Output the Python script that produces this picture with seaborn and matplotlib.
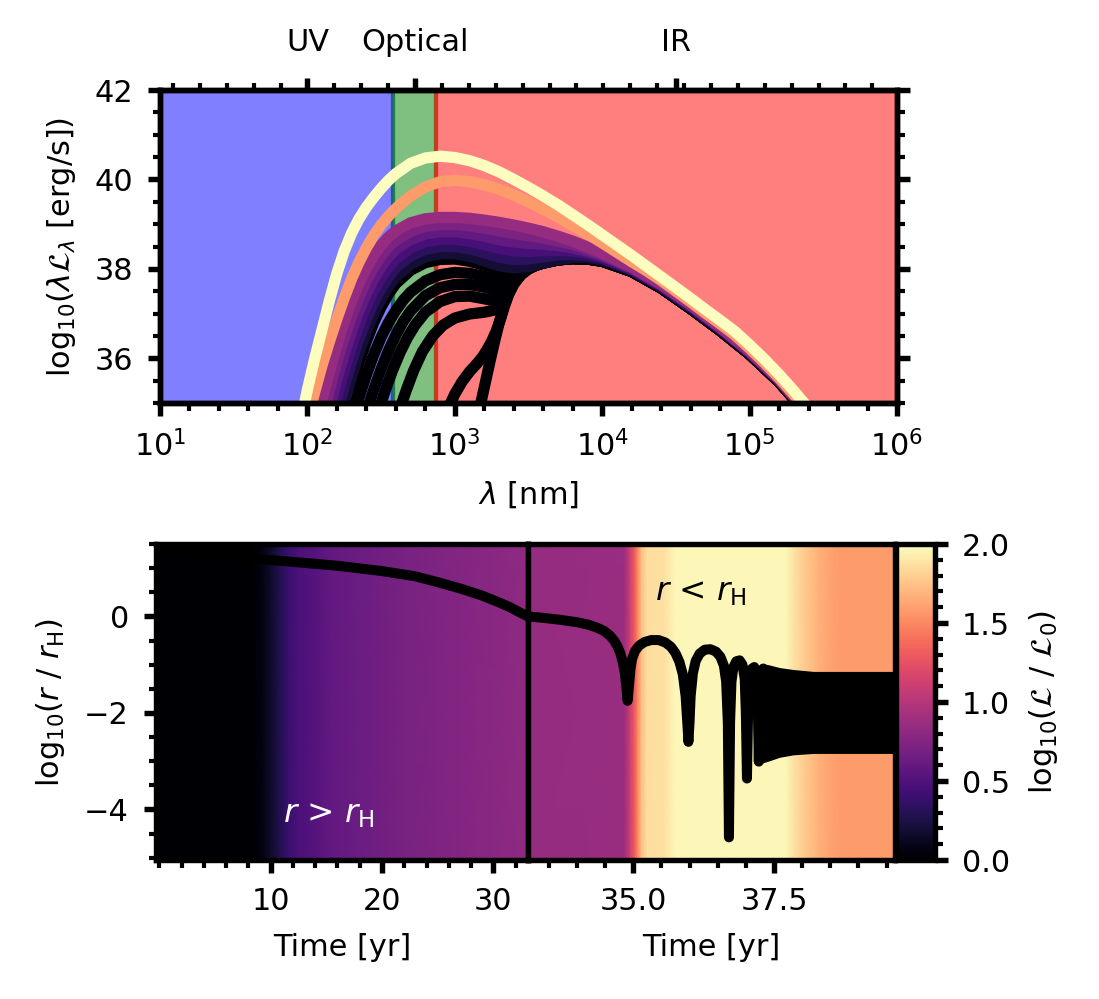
import numpy as np
import seaborn as sns
import matplotlib
matplotlib.use("Agg")
import matplotlib.pyplot as plt
from matplotlib.ticker import AutoMinorLocator, MultipleLocator, FormatStrFormatter
from matplotlib.colors import Normalize
from matplotlib.cm import ScalarMappable

# ---------------- data ----------------
# wavelength bands (log10 of nm)
uv_edge = np.log10(380)
ir_edge = np.log10(750)
band_ticks = [2.0, 2.73, 4.5]
band_names = ["UV", "Optical", "IR"]

# brightest SEDs (log10 lambda, log10 lambda L)
yel_x = [1.90, 1.95, 2.00, 2.05, 2.10, 2.15, 2.20, 2.25, 2.30, 2.35, 2.40, 2.45, 2.50, 2.55,
         2.60, 2.70, 2.80, 2.90, 3.00, 3.10, 3.20, 3.30, 3.40, 3.50, 3.60, 3.70, 3.80, 3.90,
         4.00, 4.10, 4.20, 4.30, 4.40, 4.50, 4.60, 4.70, 4.80, 4.90, 5.00, 5.10, 5.20, 5.30,
         5.40, 5.50]
yel_y = [33.7, 34.5, 35.3, 36.0, 36.65, 37.3, 37.9, 38.4, 38.8, 39.12, 39.38, 39.6, 39.8, 39.98,
         40.13, 40.36, 40.48, 40.52, 40.49, 40.42, 40.31, 40.17, 40.0, 39.82, 39.63, 39.43, 39.21, 38.99,
         38.76, 38.53, 38.3, 38.06, 37.82, 37.58, 37.34, 37.09, 36.85, 36.6, 36.3, 35.98, 35.64, 35.27,
         34.88, 34.48]
ora_x = [1.95, 2.00, 2.05, 2.10, 2.15, 2.20, 2.25, 2.30, 2.35, 2.40, 2.45, 2.50, 2.55, 2.60,
         2.70, 2.80, 2.90, 3.00, 3.10, 3.20, 3.30, 3.40, 3.50, 3.60, 3.70, 3.80, 3.90, 4.00,
         4.10, 4.20, 4.30, 4.40, 4.50, 4.60, 4.70, 4.80, 4.90, 5.00, 5.10, 5.20, 5.30, 5.40, 5.50]
ora_y = [34.0, 34.62, 35.25, 35.85, 36.38, 36.88, 37.35, 37.78, 38.15, 38.47, 38.75, 38.98, 39.18, 39.35,
         39.63, 39.83, 39.95, 39.98, 39.95, 39.88, 39.78, 39.65, 39.5, 39.33, 39.16, 38.97, 38.78, 38.58,
         38.37, 38.16, 37.96, 37.74, 37.5, 37.26, 37.01, 36.77, 36.52, 36.22, 35.9, 35.56, 35.19, 34.8, 34.4]
yel_lum = 2.0
ora_lum = 1.58

# purple band of SEDs on one wavelength grid (bottom row first)
band_grid = [2.00, 2.05, 2.10, 2.15, 2.20, 2.25, 2.30, 2.35, 2.40, 2.45, 2.50, 2.55, 2.60, 2.70,
             2.80, 2.90, 3.00, 3.10, 3.20, 3.30, 3.40, 3.50, 3.60, 3.70, 3.80, 3.90, 4.00, 4.20,
             4.40, 4.60, 4.80, 5.00, 5.20, 5.40]
band_sed = [
    [31.7, 32.4, 33.05, 33.7, 34.38, 35.0, 35.6, 36.13, 36.6, 37.0, 37.33, 37.6, 37.82, 38.1,
     38.27, 38.34, 38.34, 38.28, 38.18, 38.07, 38.02, 38.05, 38.13, 38.2, 38.25, 38.25, 38.2, 37.97,
     37.6, 37.14, 36.65, 36.12, 35.5, 34.75],
    [32.13, 32.81, 33.46, 34.1, 34.76, 35.36, 35.94, 36.44, 36.88, 37.26, 37.57, 37.82, 38.03, 38.29,
     38.44, 38.5, 38.5, 38.45, 38.36, 38.26, 38.21, 38.22, 38.27, 38.31, 38.32, 38.3, 38.23, 37.98,
     37.61, 37.15, 36.66, 36.13, 35.51, 34.76],
    [32.56, 33.22, 33.86, 34.5, 35.15, 35.73, 36.27, 36.75, 37.17, 37.52, 37.81, 38.04, 38.23, 38.47,
     38.61, 38.66, 38.66, 38.62, 38.54, 38.46, 38.4, 38.39, 38.41, 38.41, 38.4, 38.35, 38.26, 38.0,
     37.62, 37.16, 36.67, 36.14, 35.51, 34.76],
    [32.99, 33.63, 34.27, 34.9, 35.53, 36.09, 36.61, 37.06, 37.45, 37.78, 38.05, 38.27, 38.44, 38.66,
     38.78, 38.83, 38.83, 38.79, 38.73, 38.65, 38.6, 38.57, 38.55, 38.52, 38.47, 38.39, 38.29, 38.01,
     37.64, 37.18, 36.68, 36.14, 35.52, 34.77],
    [33.42, 34.04, 34.67, 35.3, 35.92, 36.46, 36.94, 37.37, 37.74, 38.04, 38.29, 38.49, 38.64, 38.84,
     38.95, 38.99, 38.99, 38.96, 38.91, 38.85, 38.79, 38.74, 38.69, 38.62, 38.55, 38.44, 38.32, 38.03,
     37.65, 37.19, 36.69, 36.15, 35.52, 34.77],
    [33.85, 34.45, 35.08, 35.7, 36.3, 36.82, 37.28, 37.68, 38.02, 38.3, 38.53, 38.71, 38.85, 39.03,
     39.12, 39.15, 39.15, 39.13, 39.09, 39.04, 38.98, 38.91, 38.83, 38.73, 38.62, 38.49, 38.35, 38.04,
     37.66, 37.2, 36.7, 36.16, 35.53, 34.78],
]
band_lum = [0.2, 0.33, 0.46, 0.59, 0.72, 0.85]

# cool component (black arch)
arch_x = [3.12, 3.15, 3.18, 3.21, 3.24, 3.27, 3.30, 3.33, 3.36, 3.40, 3.45, 3.50, 3.55, 3.60,
          3.70, 3.80, 3.90, 4.00, 4.20, 4.40, 4.60, 4.80, 5.00, 5.20, 5.40, 5.50]
arch_y = [34.2, 34.62, 35.05, 35.5, 35.95, 36.38, 36.78, 37.12, 37.4, 37.66, 37.87, 38.0, 38.08, 38.13,
          38.2, 38.23, 38.22, 38.17, 37.94, 37.57, 37.11, 36.62, 36.09, 35.47, 34.72, 34.3]
arch_join = 12  # black SEDs follow the arch from 3.55 on

# early black SEDs (hot part before they join the arch)
black_x = [
    [2.20, 2.25, 2.30, 2.35, 2.40, 2.45, 2.50, 2.55, 2.60, 2.70, 2.80, 2.90, 3.00, 3.10, 3.20,
     3.30, 3.40, 3.50],
    [2.27, 2.30, 2.35, 2.40, 2.45, 2.50, 2.55, 2.60, 2.65, 2.70, 2.80, 2.90, 3.00, 3.10, 3.20,
     3.30, 3.40, 3.45, 3.50],
    [2.35, 2.40, 2.45, 2.50, 2.55, 2.60, 2.65, 2.70, 2.80, 2.90, 3.00, 3.10, 3.20, 3.30, 3.36,
     3.40, 3.45, 3.50],
    [2.43, 2.48, 2.53, 2.58, 2.63, 2.68, 2.73, 2.80, 2.90, 3.00, 3.10, 3.20, 3.28, 3.33, 3.37,
     3.40, 3.45, 3.50],
    [2.57, 2.62, 2.67, 2.72, 2.78, 2.85, 2.92, 3.00, 3.10, 3.20, 3.27, 3.31, 3.34, 3.37, 3.40,
     3.45, 3.50],
    [2.90, 2.95, 3.00, 3.05, 3.10, 3.15, 3.19, 3.22, 3.25, 3.28, 3.31, 3.34, 3.37, 3.40, 3.45,
     3.50],
]
black_y = [
    [34.1, 34.75, 35.35, 35.9, 36.38, 36.8, 37.15, 37.44, 37.67, 37.97, 38.14, 38.21, 38.22, 38.17,
     38.08, 37.98, 37.94, 38.02],
    [34.2, 34.57, 35.12, 35.63, 36.08, 36.47, 36.8, 37.07, 37.3, 37.48, 37.73, 37.87, 37.92, 37.9,
     37.83, 37.74, 37.74, 37.92, 38.02],
    [34.25, 34.8, 35.3, 35.76, 36.17, 36.52, 36.82, 37.06, 37.4, 37.58, 37.65, 37.65, 37.59, 37.5,
     37.52, 37.7, 37.9, 38.01],
    [34.25, 34.8, 35.3, 35.75, 36.14, 36.47, 36.74, 37.03, 37.27, 37.38, 37.39, 37.33, 37.28, 37.34,
     37.52, 37.68, 37.89, 38.01],
    [34.3, 34.8, 35.28, 35.72, 36.15, 36.5, 36.74, 36.9, 36.99, 37.03, 37.08, 37.18, 37.3, 37.48,
     37.67, 37.88, 38.0],
    [34.45, 34.85, 35.2, 35.48, 35.7, 35.88, 36.04, 36.2, 36.38, 36.6, 36.88, 37.2, 37.47, 37.67,
     37.88, 38.0],
]

# luminosity history, log10(L/L0)
left_bg_t = [-0.3, 8.3, 9.2, 10.0, 10.8, 11.6, 12.5, 14.0, 15.0, 18.0, 22.0, 27.0, 33.1]
left_bg_v = [0.0, 0.0, 0.06, 0.16, 0.28, 0.40, 0.48, 0.53, 0.58, 0.64, 0.70, 0.75, 0.82]
right_bg_t = [33.13, 34.83, 34.9, 34.96, 35.02, 35.08, 35.15, 35.25, 35.55, 35.75, 37.7,
              37.85, 38.05, 38.3, 38.5, 38.7, 39.65]
right_bg_v = [0.84, 0.86, 1.0, 1.15, 1.3, 1.5, 1.74, 1.86, 1.87, 1.97, 1.97,
              1.88, 1.78, 1.67, 1.61, 1.58, 1.58]

# orbit, log10(r/rH)
left_t = [-0.3, 3, 7, 11, 16, 20, 23, 25, 27, 29, 30.5, 31.5, 32.3, 33.1]
left_r = [1.36, 1.3, 1.22, 1.15, 1.05, 0.94, 0.83, 0.71, 0.58, 0.43, 0.29, 0.19, 0.09, 0.0]
right_t = [33.13, 33.4, 33.7, 34.0, 34.2, 34.35, 34.48, 34.58, 34.66, 34.72, 34.77, 34.81, 34.85,
           34.88, 34.9, 34.92, 34.95, 34.98, 35.03, 35.1, 35.2, 35.32, 35.45, 35.57, 35.67, 35.75,
           35.82, 35.88, 35.93, 35.96, 35.98, 36.0, 36.02, 36.06, 36.11, 36.18, 36.27, 36.37, 36.47,
           36.55, 36.61, 36.65, 36.68, 36.70, 36.72, 36.745, 36.78, 36.83, 36.89, 36.94, 36.98, 37.0,
           37.02, 37.04, 37.07, 37.11, 37.15, 37.18, 37.21, 37.23, 37.25, 37.28, 37.31]
right_r = [0.0, -0.03, -0.07, -0.12, -0.17, -0.23, -0.3, -0.39, -0.5, -0.62, -0.76, -0.93, -1.17,
           -1.5, -1.75, -1.5, -1.1, -0.88, -0.72, -0.61, -0.53, -0.49, -0.49, -0.54, -0.63, -0.76,
           -0.94, -1.2, -1.65, -2.2, -2.6, -2.2, -1.65, -1.18, -0.92, -0.77, -0.69, -0.68, -0.73,
           -0.84, -1.02, -1.35, -2.2, -4.58, -2.2, -1.35, -1.05, -0.93, -0.91, -1.0, -1.3, -2.0,
           -3.36, -2.0, -1.3, -1.08, -1.05, -1.15, -1.7, -3.01, -1.7, -1.2, -1.08]
osc_t = [37.26, 37.4, 37.6, 37.84, 38.2, 39.65]
osc_hi = [-0.98, -1.0, -1.06, -1.1, -1.14, -1.14]
osc_lo = [-3.05, -3.0, -2.92, -2.87, -2.84, -2.84]

# ---------------- style ----------------
sns.set_style("ticks")
plt.rcParams.update({
    "font.family": ["DejaVu Sans"],
    "font.size": 7.3,
    "mathtext.fontset": "dejavusans",
    "axes.edgecolor": "black",
    "axes.labelcolor": "black",
    "text.color": "black",
    "xtick.color": "black",
    "ytick.color": "black",
    "axes.linewidth": 1.3,
    "xtick.major.width": 1.3, "ytick.major.width": 1.3,
    "xtick.minor.width": 1.0, "ytick.minor.width": 1.0,
    "xtick.major.size": 3.0, "ytick.major.size": 3.0,
    "xtick.minor.size": 1.8, "ytick.minor.size": 1.8,
    "xtick.direction": "out", "ytick.direction": "out",
})

cmap = plt.get_cmap("magma")
norm = Normalize(0, 2)

fig = plt.figure(figsize=(1099 / 300, 999 / 300), dpi=300)
ax_sed = fig.add_axes([0.1456, 0.5966, 0.6706, 0.3133])
ax_l = fig.add_axes([0.1419, 0.1391, 0.3385, 0.3163])
ax_r = fig.add_axes([0.4804, 0.1391, 0.3340, 0.3163])
cax = fig.add_axes([0.8153, 0.1391, 0.0355, 0.3163])

# ---------------- top: SEDs ----------------
ax_sed.axvspan(1, uv_edge, color="blue", alpha=0.5)
ax_sed.axvspan(uv_edge, ir_edge, color="green", alpha=0.5)
ax_sed.axvspan(ir_edge, 6, color="red", alpha=0.5)

lw_sed = 2.7
line_kw = dict(ax=ax_sed, lw=lw_sed, estimator=None, sort=False, legend=False)
for bx, by in zip(black_x[::-1], black_y[::-1]):
    sns.lineplot(x=bx + arch_x[arch_join:], y=by + arch_y[arch_join:], color=cmap(0.0), **line_kw)
sns.lineplot(x=arch_x, y=arch_y, color=cmap(0.0), **line_kw)
for row, lum in zip(band_sed, band_lum):
    sns.lineplot(x=band_grid, y=row, color=cmap(norm(lum)), **line_kw)
sns.lineplot(x=ora_x, y=ora_y, color=cmap(norm(ora_lum)), **line_kw)
sns.lineplot(x=yel_x, y=yel_y, color=cmap(norm(yel_lum)), **line_kw)

ax_sed.set_xlim(1, 6)
ax_sed.set_ylim(35, 42)
ax_sed.set_xticks(range(1, 7))
ax_sed.set_xticklabels([rf"$10^{{{n}}}$" for n in range(1, 7)])
ax_sed.xaxis.set_minor_locator(AutoMinorLocator(5))
ax_sed.yaxis.set_major_locator(MultipleLocator(2))
ax_sed.yaxis.set_minor_locator(AutoMinorLocator(4))
ax_sed.tick_params(which="both", right=True)
ax_sed.set_xlabel(r"$\lambda$ [nm]")
ax_sed.set_ylabel(r"log$_{10}$($\lambda\mathcal{L}_\lambda$ [erg/s])")

ax_top = ax_sed.twiny()
ax_top.set_xlim(1, 6)
ax_top.set_xticks(band_ticks)
ax_top.set_xticklabels(band_names)
ax_top.xaxis.set_minor_locator(AutoMinorLocator())
ax_top.tick_params(axis="x", which="both", pad=5)

# ---------------- bottom: orbit over luminosity ----------------
for ax, bt, bv in [(ax_l, left_bg_t, left_bg_v), (ax_r, right_bg_t, right_bg_v)]:
    T, Y = np.meshgrid(bt, [-6, 2])
    C = np.vstack([bv, bv])
    ax.pcolormesh(T, Y, C, shading="gouraud", cmap=cmap, norm=norm, zorder=0)

sns.lineplot(x=left_t, y=left_r, ax=ax_l, color="black", lw=2.4,
             estimator=None, sort=False, legend=False)
sns.lineplot(x=right_t, y=right_r, ax=ax_r, color="black", lw=2.4,
             estimator=None, sort=False, legend=False)
ax_r.fill_between(osc_t, osc_lo, osc_hi, color="black", lw=0)

for ax in (ax_l, ax_r):
    ax.set_ylim(-5.05, 1.5)
    ax.set_xlabel("Time [yr]")
    ax.set_ylabel("")

ax_l.set_xlim(-0.3, 33.1)
ax_l.set_xticks([10, 20, 30])
ax_l.xaxis.set_minor_locator(AutoMinorLocator(5))
ax_l.yaxis.set_major_locator(MultipleLocator(2))
ax_l.yaxis.set_minor_locator(AutoMinorLocator(4))
ax_l.set_ylabel(r"log$_{10}$($r$ / $r_{\rm H}$)")
ax_l.text(15.2, -4.1, r"$r$ > $r_{\rm H}$", color="white", ha="center", va="center", fontsize=7.8)

ax_r.set_xlim(33.13, 39.65)
ax_r.xaxis.set_major_locator(MultipleLocator(2.5))
ax_r.xaxis.set_major_formatter(FormatStrFormatter("%.1f"))
ax_r.xaxis.set_minor_locator(AutoMinorLocator(5))
ax_r.tick_params(axis="y", which="both", left=False, labelleft=False)
ax_r.text(36.2, 0.5, r"$r$ < $r_{\rm H}$", color="black", ha="center", va="center", fontsize=7.8)

cb = fig.colorbar(ScalarMappable(norm=norm, cmap=cmap), cax=cax)
cb.set_ticks([0, 0.5, 1.0, 1.5, 2.0])
cb.ax.yaxis.set_major_formatter(FormatStrFormatter("%.1f"))
cb.ax.yaxis.set_minor_locator(AutoMinorLocator(5))
cb.outline.set_linewidth(1.3)
cb.set_label(r"log$_{10}$($\mathcal{L}$ / $\mathcal{L}_0$)")

fig.savefig("out.png", dpi=300)
